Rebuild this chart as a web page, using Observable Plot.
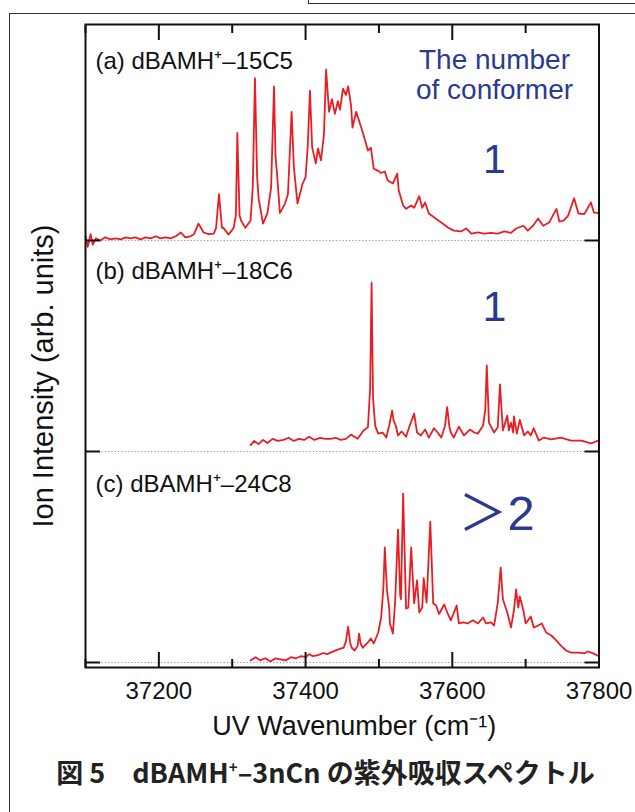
<!DOCTYPE html>
<html>
<head>
<meta charset="utf-8">
<script src="https://cdn.jsdelivr.net/npm/d3@7"></script>
<script src="https://cdn.jsdelivr.net/npm/@observablehq/plot@0.6"></script>
<style>
  html, body { margin: 0; padding: 0; background: #fff; }
  body { width: 635px; height: 812px; position: relative; overflow: hidden; }
  #outer { position: absolute; left: 9px; top: 13px; width: 700px; height: 900px;
           border-left: 1.5px solid #333; border-top: 1.5px solid #333; }
  #topbox { position: absolute; left: 308px; top: -20px; width: 400px; height: 22px;
            border: 1.5px solid #333; }
  #chart { position: absolute; left: 0; top: 0; }
  #chart svg { font-family: 'Liberation Sans', Arial, Helvetica, sans-serif; }
  #caption { position: absolute; left: 8px; top: 752px; width: 635px; text-align: center;
             font-family: "Noto Sans CJK JP", sans-serif; font-weight: 700; font-size: 27px;
             color: #222; white-space: nowrap; }
  #caption sup { font-size: 15px; vertical-align: 10px; }
</style>
</head>
<body>
<div id="outer"></div>
<div id="topbox"></div>
<div id="chart"></div>
<div id="caption">図 5　dBAMH<sup>+</sup>–3nCn の紫外吸収スペクトル</div>
<script>
// ---- data (wavenumber in cm-1, intensity in % of panel height) ----
const aWave = [37100,37103,37107,37110,37114,37120,37127,37134,37141,37148,37155,37161,37168,37175,37182,37189,37196,37202,37209,37216,37223,37230,37236,37243,37248,37254,37261,37268,37275,37278,37282,37286,37288,37295,37302,37305,37307,37310,37312,37318,37325,37328,37331,37334,37336,37342,37348,37353,37357,37359,37361,37365,37372,37376,37381,37384,37389,37396,37400,37403,37406,37409,37414,37417,37421,37425,37428,37432,37436,37440,37444,37447,37451,37455,37458,37462,37464,37469,37475,37479,37485,37489,37493,37499,37503,37508,37512,37519,37525,37527,37533,37537,37544,37548,37555,37559,37563,37568,37575,37585,37594,37602,37612,37619,37626,37635,37643,37653,37662,37671,37680,37687,37697,37703,37710,37717,37724,37732,37742,37746,37752,37758,37766,37772,37780,37789,37793,37800];
const aInt  = [2,-3,3,-2,1,0,1.5,0.5,1,0.5,1.5,1,1.5,0.5,1.5,1,2,1,1.5,1,2,3.8,1.5,2,3,8,3.8,3,3.3,6,22,6,6,2.8,6,12,51,12,9.5,6,9.5,25,77,30,20,8,13,25,73,40,32,13,17.5,22,61,35,17.5,27,30,45,71,44,36.5,43.6,38,50,81,61,67,60,66,62,72,69,73,64,53.5,61,54.5,50,42.6,44,34,33,32,32.7,28.4,27,31.7,23.7,16.6,15,16.6,15.5,21,15.5,18,12.8,11,8.5,6.2,4.7,4.3,5.7,3.3,3.8,3.3,3.6,3.3,4.3,3.6,5.7,7,4.7,7,10.4,7,8.5,15,9,9.5,11.8,20,12.8,12.5,18,13.3,12.8];

const bWave = [37325,37330,37336,37342,37348,37355,37362,37370,37377,37384,37391,37398,37405,37412,37420,37427,37434,37441,37448,37455,37462,37471,37479,37485,37488,37490,37492,37495,37499,37505,37510,37514,37518,37520,37523,37526,37531,37537,37542,37548,37552,37557,37563,37568,37575,37580,37585,37590,37593,37596,37598,37602,37609,37616,37624,37630,37635,37642,37645,37647,37650,37657,37662,37665,37669,37675,37677,37680,37683,37684,37688,37692,37698,37703,37707,37711,37718,37725,37735,37748,37762,37776,37789,37798];
const bInt  = [3,5,3.5,5.5,4,6,5,5.5,6.5,5,6,5.5,7,5.5,6.5,6,6,6.5,5.5,6,8,6,10,11.5,30,80,25,12,8.5,9,6.6,12.3,19.4,14.7,12.3,7.6,9.5,7,12.3,18,9,7.6,10.4,6.6,11,9,6.6,12,21,12,9,6.6,11.8,7.6,10.4,9,8.5,12.3,20,40.8,13.7,9,11.5,31.8,10,17,10,13.7,9,16.6,8.5,15,7.6,9.5,7.6,11,5.2,6.6,5.7,6.6,5.2,5.2,3.8,5];

const cWave = [37325,37332,37338,37345,37352,37359,37366,37373,37380,37387,37394,37400,37405,37410,37417,37424,37430,37434,37443,37452,37455,37458,37461,37463,37467,37471,37473,37475,37478,37485,37489,37493,37499,37503,37506,37508,37511,37514,37515,37519,37522,37526,37529,37530,37533,37537,37540,37544,37548,37552,37555,37559,37561,37565,37570,37574,37578,37582,37589,37594,37598,37606,37609,37615,37621,37628,37635,37642,37646,37653,37657,37662,37666,37669,37675,37680,37684,37687,37690,37692,37697,37700,37707,37711,37717,37722,37728,37735,37742,37748,37755,37762,37772,37780,37785,37792,37798];
const cInt  = [1,2.5,1,2,0.5,2,1.5,1,2.5,2,3,2.5,4,3,3.5,4.5,4,4.7,6,7,10,17,9,7,5.7,8,13.7,9,7,9.5,11.4,9,14.2,21.3,35,54.5,34,26,18.5,13.7,28,63,31.8,30,80,25.6,26,54.5,28,38.9,23.7,26,40,28.4,66.8,28,27,23,27.5,23,20,27,18.5,19,18.5,20,18.5,21.3,18.5,19,17.5,28.4,45,30,23.7,16.6,24.6,34.6,26,31.3,24.6,18.5,21.8,16.6,17.5,18.5,14.2,12.8,10.4,8,5.7,4.7,4.7,4.3,5.2,4.3,3.3];

const panelNames = ["(a) dBAMH\u207A\u201315C5", "(b) dBAMH\u207A\u201318C6", "(c) dBAMH\u207A\u201324C8"];
const conformerCounts = ["1", "1", "\uFF1E2"];
const majorTicks = [37200, 37400, 37600, 37800];
const minorTicks = [37100, 37300, 37500, 37700];
const baselines = [0, 1, 2];   // panel c, b, a baselines (one panel height per unit)

// ---- table ----
function rowsFor(w, v, offset, name) {
  return w.map((d, i) => ({w: d, y: offset + v[i] / 100, panel: name}));
}
const rows = [
  ...rowsFor(aWave, aInt, 2, "a"),
  ...rowsFor(bWave, bInt, 1, "b"),
  ...rowsFor(cWave, cInt, 0, "c")
];

// ---- layout ----
const W = 635, H = 745;
const mL = 85, mR = 36.5, mT = 24, mB = H - 667;
const panelPx = 211;                      // pixels per panel unit
const yMin = -5 / panelPx, yMax = (662 - mT) / panelPx;
const blue = "#2b3a91";
const ink = "#111";

const chart = Plot.plot({
  width: W, height: H,
  marginLeft: mL, marginRight: mR, marginTop: mT, marginBottom: mB,
  x: {domain: [37100, 37800]},
  y: {domain: [yMin, yMax], axis: null},
  marks: [
    Plot.ruleY(baselines, {stroke: "#999", strokeDasharray: "1.3,2", strokeWidth: 1}),
    Plot.line(rows, {x: "w", y: "y", z: "panel", stroke: "#e81e25", strokeWidth: 1.8, strokeLinejoin: "round"}),
    Plot.frame({stroke: ink, strokeWidth: 2}),
    // inward ticks
    Plot.axisX({anchor: "bottom", ticks: majorTicks, tickSize: -15, strokeWidth: 2, stroke: ink, fill: "none", label: null}),
    Plot.axisX({anchor: "bottom", ticks: minorTicks, tickSize: -8, strokeWidth: 2, stroke: ink, fill: "none", label: null}),
    Plot.axisX({anchor: "top", ticks: majorTicks, tickSize: -15, strokeWidth: 2, stroke: ink, fill: "none", label: null}),
    Plot.axisX({anchor: "top", ticks: minorTicks, tickSize: -8, strokeWidth: 2, stroke: ink, fill: "none", label: null}),
    Plot.axisY({anchor: "left", ticks: baselines, tickSize: -15, strokeWidth: 2, stroke: ink, fill: "none", label: null}),
    Plot.axisY({anchor: "right", ticks: baselines, tickSize: -15, strokeWidth: 2, stroke: ink, fill: "none", label: null}),
    // tick labels
    Plot.axisX({anchor: "bottom", ticks: majorTicks, tickSize: 0, tickPadding: 14, tickFormat: d => String(d), fontSize: 24, fill: ink, label: null}),
    // axis titles
    Plot.text(["UV Wavenumber (cm\u207B\u00B9)"], {frameAnchor: "bottom", dy: 48, dx: 12, lineAnchor: "top", fontSize: 27, fill: ink}),
    Plot.text(["Ion Intensity (arb. units)"], {frameAnchor: "left", textAnchor: "middle", lineAnchor: "middle", rotate: -90, dx: -42, dy: 30, fontSize: 29, fill: ink}),
    // panel labels
    Plot.text([panelNames[0]], {frameAnchor: "top-left", dx: 10, dy: 27, textAnchor: "start", lineAnchor: "top", fontSize: 24, fill: ink}),
    Plot.text([panelNames[1]], {frameAnchor: "top-left", dx: 10, dy: 237, textAnchor: "start", lineAnchor: "top", fontSize: 24, fill: ink}),
    Plot.text([panelNames[2]], {frameAnchor: "top-left", dx: 10, dy: 450, textAnchor: "start", lineAnchor: "top", fontSize: 24, fill: ink}),
    // conformer annotations
    Plot.text(["The number\nof conformer"], {frameAnchor: "top-left", dx: 409, dy: 23, textAnchor: "middle", lineAnchor: "top", lineHeight: 1.07, fontSize: 28, fill: blue}),
    Plot.text([conformerCounts[0]], {frameAnchor: "top-left", dx: 409, dy: 119, textAnchor: "middle", lineAnchor: "top", fontSize: 41, fill: blue}),
    Plot.text([conformerCounts[1]], {frameAnchor: "top-left", dx: 409, dy: 266, textAnchor: "middle", lineAnchor: "top", fontSize: 43, fill: blue}),
    Plot.text([conformerCounts[2]], {frameAnchor: "top-left", dx: 411, dy: 471, textAnchor: "middle", lineAnchor: "top", fontSize: 49, fill: blue, fontFamily: "'Liberation Sans', Arial, 'Noto Sans CJK JP', sans-serif"})
  ]
});
document.getElementById("chart").appendChild(chart);
</script>
</body>
</html>
